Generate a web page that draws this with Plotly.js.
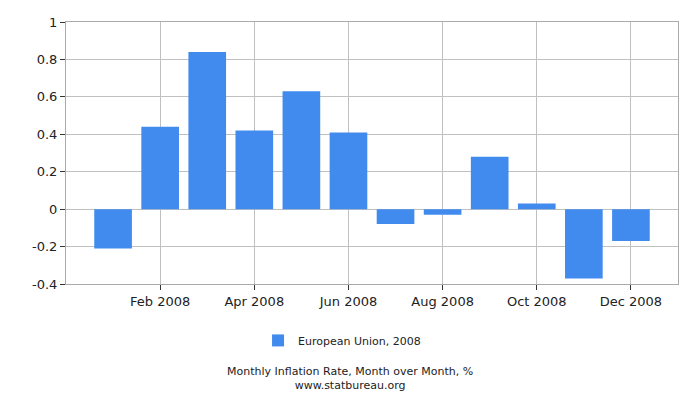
<!DOCTYPE html>
<html>
<head>
<meta charset="utf-8">
<script src="https://cdn.plot.ly/plotly-3.0.1.min.js"></script>
<style>
  html, body { margin: 0; padding: 0; background: #fff; }
  #chart { width: 700px; height: 400px; }
</style>
</head>
<body>
<div id="chart"></div>
<script>
// ── Dados ─────────────────────────────────────────────────
const months = [
  'Jan 2008', 'Feb 2008', 'Mar 2008', 'Apr 2008', 'May 2008', 'Jun 2008',
  'Jul 2008', 'Aug 2008', 'Sep 2008', 'Oct 2008', 'Nov 2008', 'Dec 2008',
];
const inflation = [-0.21, 0.44, 0.84, 0.42, 0.63, 0.41, -0.08, -0.03, 0.28, 0.03, -0.37, -0.17];

const xTicks   = ['Feb 2008', 'Apr 2008', 'Jun 2008', 'Aug 2008', 'Oct 2008', 'Dec 2008'];
const yTicks   = [-0.4, -0.2, 0, 0.2, 0.4, 0.6, 0.8, 1];
const yLabels  = ['-0.4', '-0.2', '0', '0.2', '0.4', '0.6', '0.8', '1'];

const seriesName = 'European Union, 2008';
const chartTitle = 'Monthly Inflation Rate, Month over Month, %';
const sourceText = 'www.statbureau.org';

// ── Tema ──────────────────────────────────────────────────
const FONT      = 'DejaVu Sans, Verdana, sans-serif';
const BAR_COLOR = '#428bee';
const GRID      = '#c0c0c0';

// centro da imagem (350px) em coordenadas "paper" do plot (l=66, largura=612)
const CENTER_X = (350 - 66) / 612;

const trace = {
  x: months,
  y: inflation,
  name: seriesName,
  type: 'bar',
  width: 0.8,
  marker: { color: BAR_COLOR, line: { width: 0 } },
  showlegend: true,
};

const layout = {
  width: 700,
  height: 400,
  paper_bgcolor: '#fff',
  plot_bgcolor:  '#fff',
  font: { family: FONT, size: 13, color: '#222' },
  margin: { l: 66, r: 22, t: 22, b: 116 },
  showlegend: true,
  legend: {
    orientation: 'h',
    x: CENTER_X - 0.013, xanchor: 'center',
    y: -0.16, yanchor: 'top',
    font: { family: FONT, size: 11, color: '#222' },
  },
  xaxis: {
    type: 'category',
    range: [-1, 12],
    tickmode: 'array',
    tickvals: xTicks,
    ticktext: xTicks,
    ticks: 'outside',
    ticklen: 5,
    tickcolor: '#333',
    showgrid: true,
    gridcolor: GRID,
    showline: true,
    linecolor: '#aaa',
    mirror: true,
    zeroline: false,
    tickfont: { family: FONT, size: 13, color: '#222' },
  },
  yaxis: {
    range: [-0.4, 1],
    tickmode: 'array',
    tickvals: yTicks,
    ticktext: yLabels,
    ticks: 'outside',
    ticklen: 5,
    tickcolor: '#333',
    showgrid: true,
    gridcolor: GRID,
    showline: true,
    linecolor: '#aaa',
    mirror: true,
    zeroline: true,
    zerolinecolor: GRID,
    zerolinewidth: 1,
    tickfont: { family: FONT, size: 13, color: '#222' },
  },
  annotations: [
    {
      // título e fonte num único bloco de duas linhas
      text: `${chartTitle}<br>${sourceText}`,
      xref: 'paper', yref: 'paper',
      x: CENTER_X, y: -0.3, xanchor: 'center', yanchor: 'top',
      showarrow: false,
      font: { family: FONT, size: 11, color: '#222' },
    },
  ],
};

Plotly.newPlot('chart', [trace], layout, { displayModeBar: false, staticPlot: true });
</script>
</body>
</html>
